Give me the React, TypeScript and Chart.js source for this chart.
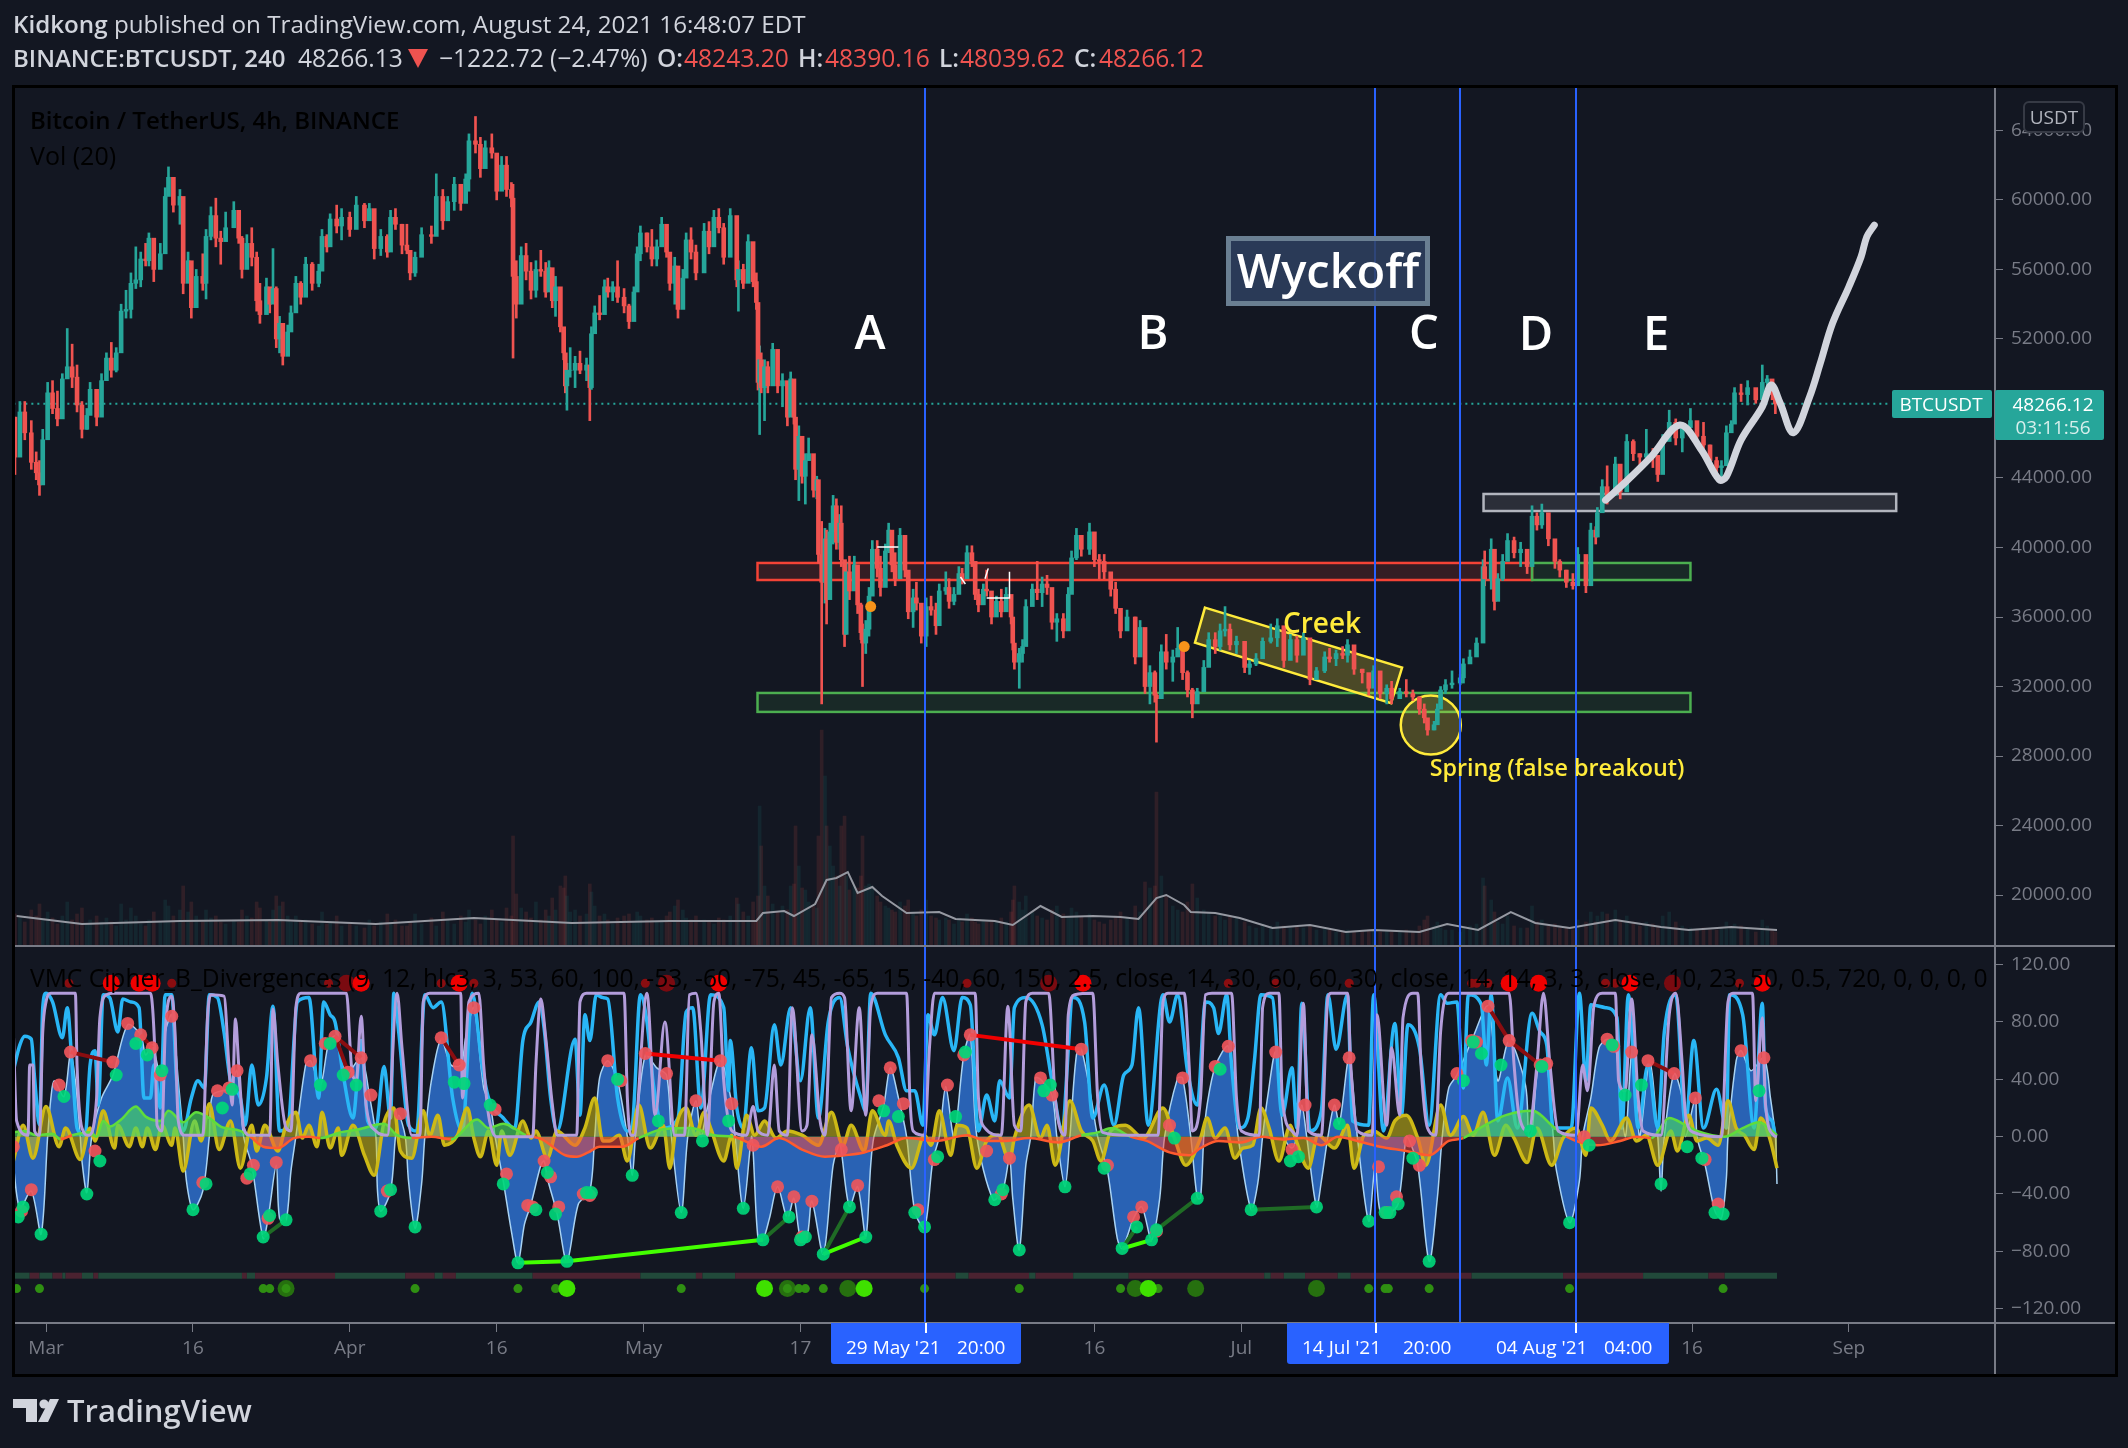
import React, { useEffect, useRef } from "react";
import { Chart, registerables } from "chart.js";
Chart.register(...registerables);

const BG = "#131722";
const AXIS = "#787b86";
const FONT = '"Open Sans", sans-serif';
const UP = "#26a69a";
const DOWN = "#ef5350";

// bar index: 4h bars counted from 26 Feb 2021 00:00. Prices in thousand USDT.
// rows of: bar, high, low, close
const candleTable = [
-1,47.5,44.2,45.2, 2,48.4,45.8,47.8, 5,48.4,46.2,46.6, 9,47.3,44.5,44.9, 12,45.5,43.9,44.3, 14,45,43,43.6, 16,46.8,44.8,46.2, 19,49.5,47.3,48.9, 22,49.6,47.7,48, 25,49,47,47.4,
28,50,48,49.7, 31,52.6,49.9,50.4, 34,51.7,49.2,49.8, 37,50.5,47.8,48.2, 40,48.4,46.3,46.8, 43,48,46.8,47.6, 45,49.5,48,49.1, 49,49,47,47.5, 52,50,48.4,49.6, 55,51.2,49.6,50.9,
58,51.8,49.8,50.2, 61,51.5,50.1,51.2, 64,54,51.5,53.6, 67,54.8,53.2,53.7, 70,55.8,53.2,55.2, 73,57.3,54.9,55.4, 76,57,55,56.6, 79,57.5,56.2,56.5, 81,58.1,56.2,57.8, 84,57.7,55.3,56,
88,57.5,56.1,56.9, 91,60.7,59.2,60.2, 93,61.9,60.3,61.3, 96,60.8,59.3,59.7, 100,60.6,58.6,60.2, 102,58.5,54.6,55.2, 105,57,55.4,56.5, 107,55.5,53.2,53.8, 110,56,54.7,55.6, 114,56.9,54.8,55.2,
116,58.3,54.3,57.9, 119,59.6,57.7,59.1, 122,60.1,57.3,57.8, 125,58.2,56.3,57.6, 128,59.3,58,58.4, 133,59.9,58.4,59.4, 136,58.6,57.5,57.8, 138,57.9,55.5,56, 141,58,56.4,57.5, 144,58.4,56.2,56.7,
147,57,53.6,54.2, 149,55.2,52.9,53.4, 153,55.5,54,55, 155,54.9,53.5,54, 157,57.2,54.6,54.9, 159,55,51.5,52, 161,53.3,51.2,52.9, 163,52,50.5,51, 166,52.8,51.2,52.4, 168,53.9,52.5,53.5,
171,55.6,53.8,55.2, 174,55.3,54,54.4, 177,56.7,55.6,56.3, 181,56.4,54.8,55.2, 185,56.3,55,55.9, 187,58.3,56.3,57.9, 190,58,57,57.3, 192,59.2,58,58.9, 196,59.7,58.1,58.5, 199,59.5,57.7,59,
204,59.3,57.9,58.3, 208,60.2,59,59.7, 213,59.8,58.4,58.8, 216,59.8,58.9,59.5, 219,59.4,56.6,57.2, 223,58.3,56.8,57.9, 227,58,56.7,57, 229,59.4,57.9,59, 232,59.5,58.3,58.6, 236,58.6,56.9,57.4,
239,58.6,56.9,57.1, 241,56.9,55.4,55.8, 244,57,55.6,56.7, 248,58.4,57,58, 254,58.5,57.5,57.9, 257,61.5,58.5,60.2, 261,60.6,58.3,58.8, 264,60.2,59.3,59.9, 268,61.3,59.4,60.9, 272,60.6,59.4,59.8,
275,61.5,60,61.2, 277,63.8,60.5,63.4, 281,64.8,62.7,63.2, 284,63.6,61.3,61.8, 287,63.4,62,63, 291,63.8,62.4,62.7, 294,62,60,60.5, 297,62.5,61.2,62, 300,62.5,60.2,60.6, 303,61,59.6,60.1,
304,60.9,50.9,55.6, 306,56.5,53.2,54, 309,57.3,54.8,56.8, 312,57.5,55.4,55.9, 315,56.4,54.3,54.8, 318,56.5,54.4,56, 321,57.1,55.6,55.9, 324,56.4,54.4,54.7, 326,56.5,55.2,56.1, 328,55.6,53.8,54.2,
330,55.6,53.3,55, 333,53.2,52.4,52.7, 335,52.4,50.8,51.2, 336,50.9,48.9,49.3, 337,50.6,47.9,50.2, 339,51.5,49.8,50.2, 342,51,49.2,50.6, 345,51.3,50,50.2, 349,50.9,49.6,50.5, 351,49.9,47.3,49.2,
352,52.7,49.1,52.3, 354,53.9,52.5,53.5, 357,54.5,53.1,53.4, 360,55.4,54.4,55, 362,55.5,54.4,54.7, 365,55.3,54.2,55, 368,56.5,54.1,54.4, 372,54.9,53.5,53.9, 375,54,52.6,53, 378,55,53.9,54.7,
380,57.3,56,56.9, 382,58.5,56.5,58.1, 386,58.1,57,57.3, 389,58.3,56.2,56.6, 392,57.7,56.2,57.3, 395,59,57.7,58.6, 398,58.1,56.7,57, 400,56.9,54.8,55.2, 403,56.7,54,56.2, 405,55.5,53.2,53.7,
408,56,54,55.5, 410,58.1,56.4,57.7, 413,58.4,56.6,57, 416,57.4,55.4,55.8, 421,58.65,56.4,58.2, 424,58.75,56.9,57.3, 427,59.4,57.5,59, 430,59.5,58.1,58.4, 433,58.65,56.3,56.7, 437,59.5,57.3,59.1,
441,58.65,55,55.4, 442,56.5,53.6,56, 445,56.3,54.9,55.2, 448,58,56.3,57.6, 451,57.2,55,55.3, 453,55.8,53.7,54.1, 454,53.7,49.06,49.5, 455,51.6,46.5,50.8, 456,51.2,48.9,49.2, 458,50.8,47.3,50.4,
460,50.7,48.9,49.3, 463,51.75,50.4,51.4, 466,51,48.9,49.3, 469,50,48.1,49.6, 472,49.4,47,47.5, 474,50.1,47.9,49.7, 476,48.7,47.1,47.5, 477,47.1,43.9,44.5, 479,47,42.7,46.4, 481,46.3,43.7,44.1,
483,45.4,42.5,45, 485,46.3,45,45.4, 488,44.4,42.9,43.3, 490,44.1,42.8,43.9, 491,42.8,39.1,39.6, 493,41.5,31,38, 495,41.1,36.8,40.5, 496,41,35.6,37, 498,41.4,38.9,40.9, 500,43,40.2,42.4,
502,42.8,39.9,40.3, 504,41.9,39.9,41.4, 505,42.4,38.9,39.3, 507,38.5,34.3,35, 508,39.1,36,38.6, 510,39.5,37,37.5, 513,39.5,37.7,39, 515,38.1,36.2,36.7, 517,36.8,34.7,35.1, 518,35.6,32,34.5,
520,35.8,33.9,35.3, 522,37.7,34.9,37.2, 524,40.4,37.5,39.9, 527,40.4,38.3,38.8, 529,39.5,37.2,37.7, 532,40.2,38.5,39.8, 534,41.4,39.7,41, 536,40,38.6,39, 538,39.7,37.8,38.2, 541,41.1,39.3,40.7,
544,39.6,38.3,38.7, 546,38,35.9,36.3, 549,37.6,35.4,37.1, 551,38,36.4,36.8, 554,36.2,34.5,34.9, 557,37.1,34.3,36.6, 560,37.2,36.1,36.4, 563,36.8,35,35.5, 565,37.9,36.8,37.5, 569,38.6,37.3,37.7,
571,38.2,36.5,36.9, 574,37.7,36.7,37.3, 577,38.9,37.8,38.5, 579,38.8,37.9,38.2, 582,40.1,38.5,39.7, 585,40.1,38.9,39.2, 587,38.7,37,37.3, 589,37.6,36.3,36.7, 592,37.9,37.1,37.6, 594,38.7,37.2,37.5,
597,37.1,35.6,36, 600,37.2,36.2,36.9, 603,37.6,36,36.3, 606,37.7,36.6,37.3, 609,36.8,35.6,36, 610,35.6,34.1,34.5, 611,34.2,33,33.4, 614,34.2,31.9,33.9, 616,34.7,33.4,34.3, 618,37,34.7,36.6,
622,37.9,36.7,37.6, 625,39.2,37,37.4, 628,38.3,36.6,37.9, 631,38.4,37.3,37.7, 634,37.5,35.3,35.7, 637,36.2,34.6,35.9, 641,36.2,34.8,35.2, 644,37.7,36,37.3, 646,39.8,37.6,39.4, 649,41.1,39.3,40.7,
652,40.6,39.5,39.9, 657,41.4,39.6,40.9, 660,40.5,38.9,39.3, 663,39.6,38.2,39.2, 666,39.6,38.2,38.6, 670,38.2,37.2,37.6, 673,38,36.2,36.5, 676,36.3,34.8,35.2, 680,36.4,35.3,36, 685,36,33.3,33.7,
688,35.8,34.3,35.4, 691,33.3,31.6,32, 694,33.2,31,32.8, 697,32.9,31.1,31.5, 698,31.6,28.8,31.3, 701,34.4,31.6,34, 704,35,33,33.4, 708,34.1,32.3,33.7, 711,35.4,33.9,34.2, 714,34.5,32.4,32.8,
717,32.9,31.4,31.8, 720,31.9,30.2,31, 723,31.9,31.4,31.7, 727,33.5,32.3,33.1, 730,35.1,33.5,34.7, 734,35.1,33.9,34.3, 737,35.6,34.1,35.2, 740,36.6,34.9,35.3, 743,35.6,34.1,34.4, 747,34.9,33.9,34.6,
752,34.1,32.8,33.1, 755,33.5,32.7,33.3, 759,33.9,33.2,33.6, 763,34.8,34.3,34.6, 768,35.6,34.5,34.8, 772,35.9,34.3,35.5, 776,34.3,33.1,33.5, 780,35,33.7,34.7, 784,34.9,33.4,33.8, 788,35.1,33.9,34.8,
792,33.1,32.1,32.4, 796,33.1,32.6,32.9, 801,34,32.8,33.7, 804,34.2,33.4,33.6, 808,34.1,33.2,33.9, 812,34.3,33.6,33.8, 815,34.7,33.4,34.4, 819,33.4,32.7,33, 824,33,32.2,32.8, 828,32.6,31.5,31.9,
831,33.2,32,32.9, 835,32.2,31.3,31.6, 839,32.1,31,31.9, 842,32.3,31,31.3, 847,31.9,31.4,31.7, 851,32.4,31.4,31.6, 855,31.8,31.2,31.4, 859,31.4,30.4,30.7, 862,31,29.9,30.2, 864,30.1,29.2,29.5,
868,30,29.5,29.8, 870,31,29.9,30.7, 872,32,31.4,31.8, 875,32.4,31.6,32.1, 879,32.9,31.9,32.2, 884,32.7,32.1,32.5, 886,33.6,32.2,33.3, 890,34.1,33.4,33.7, 894,34.8,33.9,34.5, 898,39.3,35.3,38.9,
899,39.8,37.8,38.2, 903,40.5,37.6,39.9, 905,37.9,36.4,36.9, 907,38.5,37.2,38.2, 910,39.6,38.1,39.2, 913,40.8,39.3,40.4, 917,40.6,39.4,39.7, 921,40.3,38.9,39.9, 925,39.8,38.5,38.9, 928,42.4,38.9,41.8,
931,42,41,41.3, 934,42.5,41.1,42, 938,41.6,40.1,40.5, 942,40.4,38.8,39.2, 945,39.3,38.3,38.7, 949,38.7,37.7,38, 953,38.5,37.6,37.8, 956,40,38.5,39.6, 961,39.3,37.4,37.8, 964,41.4,39.3,41,
967,41.2,40.2,40.6, 968,42.3,41.4,42, 971,43.9,42.5,43.5, 974,44.7,42.5,43, 979,45.2,43.5,44.8, 982,43.9,42.8,43.2, 986,46.5,44.9,46.1, 990,46.2,45,45.4, 994,45.4,44.7,45.2, 998,46.8,45,45.4,
1002,45.7,44.6,45.3, 1005,44.8,43.8,44.2, 1008,46.5,45.2,46.1, 1012,47.9,46.4,47.2, 1016,47.4,45.9,46.3, 1020,47.2,45.5,46.9, 1025,48,46.9,47.3, 1029,47.2,46,46.4, 1033,47.2,45.5,45.9, 1037,45.9,44.6,45,
1041,45.2,44.3,44.6, 1044,45,43.9,44.7, 1047,47,45.2,46.6, 1050,47.3,46.7,47.1, 1052,49.2,48.3,48.9, 1056,49.4,48.4,48.8, 1060,49.6,48.2,49.2, 1065,49,48.3,48.5, 1069,50.5,49.2,49.5, 1072,49.9,49.1,49.7, 1075,49.5,48.5,48.8, 1077,48.5,47.7,48.27,
];

const volumes = [
32,28,24,36,30,42,26,34,28,22, 30,44,26,32,38,22,26,30,24,28, 24,20,42,26,38,30,22,20,26,34, 24,46,40,30,36,60,34,44,30,24,
36,28,30,24,22,26,24,36,30,28, 44,38,26,24,36,50,40,44,30,24, 30,24,26,22,20,34,22,24,30,20, 22,20,18,26,20,24,32,22,26,20,
20,24,32,22,28,20,34,26,22,30, 24,36,26,22,30,36,26,24,38,30, 110,52,38,34,28,44,26,36,30,48, 36,60,58,70,50,34,36,30,32,62,
54,40,30,32,26,22,28,30,32,24, 34,30,26,28,24,26,30,34,40,46, 36,28,26,30,26,24,22,28,26,30, 48,42,34,30,44,26,50,140,100,60,
50,42,34,40,36,60,62,120,80,58, 56,44,40,38,110,216,170,120,100,80, 70,60,120,130,70,56,60,58,70,110, 60,62,60,50,44,40,38,36,34,44,
40,46,34,30,36,46,30,28,26,28, 26,22,28,24,32,28,24,22,26,24, 26,24,28,24,34,46,60,44,36,50, 34,30,28,26,36,40,32,28,38,34,
30,32,26,24,22,26,30,34,28,40, 34,64,58,60,154,70,50,40,36,34, 44,62,48,36,34,30,32,26,30,28, 24,20,18,22,20,24,20,18,20,18,
20,16,18,16,14,14,16,14,14,16, 16,14,16,14,14,16,14,20,26,30, 20,24,18,16,16,14,18,20,22,68, 60,46,34,24,22,30,20,18,18,40,
24,26,20,22,18,18,16,26,24,34, 24,30,34,32,36,26,30,24,20,24, 22,20,30,34,24,20,18,16,18,16, 16,18,24,18,22,20,18,14,26,20,16,14,
];

const volumeMa = [0,30,40,22,100,25,160,26,220,22,280,28,340,23,400,25,418,25,453,25,457,33,470,35,476,30,489,42,496,66,502,68,509,74,515,53,524,59,530,50,545,33,565,34,575,27,599,25,610,21,627,40,640,29,659,30,676,29,687,27,698,48,704,51,715,41,719,34,734,33,749,28,769,18,792,21,814,14,831,16,859,14,876,22,895,16,915,34,930,23,951,18,979,26,1007,19,1024,16,1050,19,1078,16];

const projection = [973,42.73,985.5,43.79,1001,45.23,1018.5,47.05,1031.7,45.61,1042.7,43.89,1047,44.08,1056,46.19,1069,48.1,1074.5,49.35,1080,48.3,1088,46.6,1098,48.68,1104.5,50.6,1112,52.9,1122,55,1129.5,56.73,1133,57.88,1137.6,58.55];
const lastPrice = [-2,48.266,1148,48.266];
const orangeMarks = [523,36.6,715,34.3];
const whiteMarks = [527,40.03,540,40.03,540,null,594,37.1,608,37.1,608,38.6,608,null,578,38.3,581,37.9,581,null,593,38.2,595,38.8];

// oscillator: bar, value
const moneyFlow = [-2,-20,2,-50,9,-38,15,-68,19,0,21,27,23,39,29,28,33,58,36,39,39,0,40,-17,43,-39,46,0,52,27,59,43,68,78,76,71,79,57,83,64,88,43,91,73,95,85,99,39,102,0,104,-31,108,-51,114,-38,118,0,120,29,130,34,135,46,139,0,144,-20,151,-71,154,-57,159,-20,161,-57,165,-59,168,-24,171,0,177,50,180,53,186,36,191,65,195,70,202,44,211,55,216,29,220,0,221,-38,223,-52,229,-38,232,0,234,15,238,0,240,-31,244,-64,248,-33,250,0,254,39,260,68,266,50,272,50,275,69,280,90,286,34,290,22,293,0,298,-31,303,-66,307,-88,311,-61,315,-47,321,-20,323,-17,325,-29,331,-54,337,-87,344,-47,351,-38,354,0,357,41,362,53,368,39,374,0,377,-27,379,0,385,57,392,48,398,43,401,0,407,-53,411,0,416,25,419,0,423,20,431,53,438,23,440,0,445,-50,450,0,451,-10,454,-71,457,-72,461,-57,466,-35,472,-57,476,-43,480,-71,484,-70,487,-45,494,-82,500,-20,504,-5,505,-10,510,-49,515,-35,520,-70,523,-20,525,0,531,22,535,48,540,27,545,0,550,-52,556,-64,561,-17,565,0,569,35,574,0,580,57,584,71,588,0,598,-44,604,-37,608,-15,610,-43,614,-79,618,-20,621,0,624,41,627,40,634,29,637,0,642,-35,645,0,649,57,652,61,658,27,662,0,668,-24,674,-71,677,-78,684,-57,689,-49,695,-72,700,-43,703,0,711,41,714,41,719,0,723,-43,725,-43,727,0,729,22,734,49,742,63,748,0,756,-51,760,-33,763,0,766,27,771,59,776,0,781,-8,784,0,787,22,790,0,796,-49,799,-31,803,0,807,22,810,9,816,55,821,0,828,-59,832,-20,835,-52,841,-53,846,-47,851,0,853,-3,858,-20,865,-87,870,-43,873,0,877,34,882,43,891,67,901,91,907,39,914,67,924,36,926,0,928,4,932,50,937,50,941,0,943,-24,951,-60,957,-31,959,0,964,27,969,62,974,68,979,64,985,0,989,58,992,27,994,0,1000,52,1005,0,1007,-38,1009,0,1015,44,1020,27,1022,0,1028,27,1029,0,1034,-20,1040,-52,1044,-57,1047,-29,1048,0,1053,53,1056,60,1062,46,1070,55,1074,27,1077,0,1078,-33];

const fastStoch = [-2,46,2,64,5,70,9,68,11,41,14,8,16,90,18,100,22,94,28,69,31,90,34,50,37,6,42,1,45,50,48,60,50,22,53,99,57,97,62,73,65,96,70,94,75,90,78,27,82,27,84,50,88,20,91,99,95,99,98,39,102,4,107,27,111,39,115,34,118,99,123,97,127,73,131,39,137,27,140,8,144,50,148,22,153,41,157,91,161,4,166,6,172,94,179,97,185,27,188,94,192,85,195,80,200,43,206,13,211,67,215,11,220,6,225,49,229,13,231,100,234,73,240,8,245,4,250,99,255,90,260,94,267,27,273,4,279,100,285,50,289,27,298,13,305,6,310,67,315,80,320,94,323,76,327,27,331,4,342,68,345,15,348,85,351,67,355,99,359,97,362,96,368,27,374,4,377,8,382,99,386,80,390,36,396,6,405,13,410,87,414,90,419,20,425,99,433,90,436,32,437,67,441,20,445,6,450,62,454,18,458,20,464,78,468,50,474,90,480,39,486,90,491,13,497,80,504,97,509,62,517,27,520,18,523,100,532,71,540,55,545,32,550,32,555,8,558,85,562,71,567,97,574,60,579,97,584,92,589,4,594,29,599,11,602,39,608,27,611,90,618,97,628,78,634,39,640,6,647,97,654,80,659,13,666,36,672,8,678,43,683,50,687,90,693,8,702,99,706,80,711,99,717,46,723,22,728,94,733,90,736,72,741,99,744,50,749,6,754,13,758,53,762,99,769,97,775,15,781,48,784,6,787,93,792,4,799,18,803,99,808,61,815,99,818,11,828,8,831,99,837,4,844,79,848,15,852,78,859,62,865,8,872,99,876,93,882,94,886,34,889,99,897,92,900,50,903,99,907,11,913,41,919,6,928,86,933,73,937,64,941,6,952,6,957,100,961,39,964,92,973,90,980,83,983,6,987,99,993,6,999,50,1005,6,1009,73,1016,99,1022,8,1027,67,1033,6,1041,33,1047,6,1049,99,1057,85,1064,6,1069,93,1071,20,1075,11,1077,0];

const slowStoch = [-2,73,0,11,7,1,8,50,10,50,11,4,14,1,16,73,18,94,21,100,36,100,37,50,40,6,44,1,49,27,51,83,55,99,59,100,82,100,85,50,86,8,89,4,91,73,95,98,97,73,99,11,103,1,114,1,117,85,119,99,127,98,130,50,132,22,134,82,136,50,139,6,143,1,155,1,157,89,160,50,165,6,168,4,171,90,174,100,202,100,205,50,208,39,211,84,214,22,220,4,227,1,233,100,236,62,242,1,247,1,249,94,253,100,272,100,273,27,277,94,283,100,286,50,289,15,294,0,316,0,318,50,321,96,324,69,328,23,331,1,343,1,345,94,349,100,372,100,374,27,376,1,378,1,386,100,391,15,397,80,403,1,409,1,412,99,416,100,419,73,423,1,427,94,430,100,433,39,438,4,447,1,451,21,454,4,460,1,464,50,467,4,472,1,475,90,481,4,484,8,487,71,492,11,495,1,499,97,504,100,507,97,511,18,516,90,520,15,523,90,527,100,545,100,547,27,549,4,556,1,559,62,562,100,587,100,589,27,593,6,603,1,607,91,611,8,615,4,618,94,622,100,632,100,636,27,642,1,644,85,648,99,659,100,662,27,665,3,680,1,699,1,702,94,705,100,715,100,718,50,720,4,725,27,728,99,732,100,744,100,747,27,750,4,761,1,763,90,767,100,773,100,775,27,781,4,784,1,788,93,791,4,799,1,803,97,805,100,815,100,817,50,821,4,830,1,833,85,839,8,842,62,847,15,849,83,855,100,858,100,860,50,864,6,869,1,872,73,877,100,914,100,917,50,920,15,926,4,931,50,935,100,939,50,944,4,955,1,959,50,962,32,966,92,971,100,979,100,981,39,985,32,989,96,993,27,996,4,1007,1,1012,85,1016,100,1020,50,1022,15,1027,3,1044,0,1048,94,1051,100,1063,100,1065,25,1069,83,1071,22,1076,1,1078,0];

const rsiMfi = [-2,-17,4,8,10,-15,18,21,26,-7,30,6,39,-16,45,6,48,-3,53,18,60,-8,62,8,69,-7,73,6,77,-7,80,6,85,-9,89,8,95,-6,97,6,102,-24,109,11,113,-3,118,23,124,-9,131,11,137,-22,144,8,147,-10,152,8,160,-10,165,8,171,17,175,-1,179,8,184,-7,187,17,192,-8,197,6,199,-13,206,8,213,-13,219,-27,225,10,231,20,235,-10,242,-15,249,18,253,1,258,15,262,-6,270,1,276,20,280,-1,284,-14,289,4,294,-20,297,4,302,-13,310,11,315,-1,318,4,325,-15,331,4,342,-6,348,6,354,27,359,-3,363,-3,369,1,374,-17,381,22,388,-8,396,8,400,-22,404,8,410,20,416,1,421,17,425,6,433,-17,438,1,441,-22,447,15,452,1,458,11,465,-1,472,4,481,1,491,-6,499,17,506,-6,511,8,519,-10,524,18,532,1,534,11,539,-6,548,-22,556,1,560,-6,565,18,572,-13,576,8,582,6,588,-22,594,-3,601,1,608,-17,611,-1,620,22,627,-1,631,8,636,-20,645,25,652,4,659,-3,664,-17,670,4,679,8,690,-1,702,20,709,-1,716,-20,725,-1,729,13,734,-1,740,6,746,-15,751,-8,757,-6,762,20,767,6,773,-17,780,8,783,-1,791,-22,797,1,807,-8,815,8,819,-22,825,1,831,4,839,-1,844,11,851,15,858,-1,863,-20,872,22,878,1,886,14,892,1,898,17,905,-13,912,8,917,-1,925,-18,931,6,940,-20,947,-1,955,6,961,-13,964,20,971,8,976,-3,986,13,992,-3,998,1,1005,-20,1013,4,1017,-10,1024,15,1029,-3,1035,-1,1042,-6,1048,25,1053,6,1058,1,1064,-9,1068,13,1074,-3,1078,-22];

const mfiArea = [-2,3,5,4,12,1,22,2,27,-2,34,1,45,3,49,0,53,11,57,7,64,12,73,21,79,14,88,11,93,18,102,10,110,17,118,13,125,7,137,4,143,0,151,-7,160,-8,170,-1,179,0,186,-1,198,3,209,5,225,9,233,1,242,-1,254,0,266,-2,282,12,289,6,298,9,312,1,322,-2,336,-13,343,-14,350,-11,357,-7,371,-7,381,-1,395,5,413,6,427,1,439,0,456,-7,467,-1,481,-9,495,-14,507,-13,519,-11,533,-6,545,-1,563,-3,582,1,594,-3,606,-3,620,-1,638,-4,652,1,662,3,671,6,682,0,692,-3,706,-11,718,-13,725,-8,736,-3,750,-4,762,0,775,-2,788,-1,799,-6,809,0,821,-3,835,-7,851,-10,865,-13,877,-3,886,-1,896,6,912,15,928,18,942,6,949,0,968,-6,982,-3,992,0,1001,-1,1012,13,1022,8,1029,4,1046,0,1057,6,1067,10,1078,1];

const redDots = [-2,-7,9,-37,3,-52,26,36,33,59,48,-10,59,52,68,79,76,71,83,62,88,43,95,84,114,-32,123,32,130,34,135,46,141,-29,145,-20,154,-57,159,-18,180,53,189,65,195,70,203,45,211,55,217,29,227,-38,235,16,260,69,271,50,280,90,293,19,300,-26,313,-48,316,-49,323,-17,327,-28,332,-49,347,-40,351,-41,362,53,370,39,385,58,398,44,416,25,431,53,438,23,451,-6,466,-35,476,-42,481,-70,487,-45,505,-9,515,-34,528,25,535,48,543,23,552,-51,562,-16,570,36,580,57,584,71,594,-10,603,-40,608,-15,627,41,634,29,652,61,668,-20,684,-56,689,-49,698,-66,706,8,714,41,734,49,742,63,771,59,781,-9,789,22,807,22,816,55,834,-21,839,-53,845,-42,853,-3,859,-20,882,44,891,67,894,66,901,91,914,67,933,50,937,51,960,0,974,68,978,63,989,59,999,53,1015,44,1028,27,1034,-16,1042,-47,1056,60,1070,55];

const greenDots = [1,-56,4,-49,15,-68,29,28,43,-40,51,-17,61,43,73,65,80,57,89,46,108,-51,116,-33,126,20,132,33,143,-26,151,-70,155,-55,165,-58,186,36,192,65,200,43,208,36,223,-52,229,-37,244,-63,268,38,274,37,290,22,298,-33,307,-88,318,-51,325,-25,330,-54,337,-87,349,-39,352,-39,368,40,377,-27,393,11,407,-53,420,-3,436,11,445,-50,457,-72,473,-56,480,-72,483,-70,494,-82,510,-49,520,-70,531,18,540,14,550,-53,556,-63,564,-14,575,14,581,59,599,-44,604,-37,614,-79,629,32,633,36,642,-35,666,-22,677,-78,686,-63,695,-72,698,-65,709,-1,723,-43,737,47,756,-51,780,-17,785,-14,796,-49,810,9,828,-59,838,-53,841,-53,846,-47,855,-15,865,-87,886,39,892,66,897,58,909,50,927,4,934,49,951,-60,963,-6,977,64,985,29,995,36,1007,-33,1023,-7,1032,-15,1040,-53,1045,-54,1067,32];

const divBrightGreen = [307,-88,337,-87,457,-72,457,null,494,-82,520,-70,520,null,677,-78,695,-72];
const divDarkGreen = [151,-70,165,-58,165,null,457,-72,473,-56,473,null,494,-82,510,-49,510,null,677,-78,686,-63,686,null,698,-65,723,-43,723,null,756,-51,796,-49];
const divBrightRed = [385,58,431,53,431,null,584,71,652,61];
const divDarkRed = [33,59,59,52,59,null,76,71,83,62,83,null,195,70,211,55,211,null,195,70,203,45,203,null,260,69,271,50,271,null,901,91,914,67,933,50,933,null,999,53,1015,44];

const bandBars = [-2,8,14,22,28,30,40,47,50,138,141,146,195,238,256,261,269,316,382,416,420,440,575,583,620,624,647,681,764,768,776,789,809,817,891,947,996,1036,1046,1078];
const bandKinds = "grgrgrgrgrgrgrgrgrgrgrgrgrgrgrgrgrgrgrg";
const bandLevel = -97;

const markerLevel = -106;
const smallMarkers = [0,14,151,155,165,244,307,330,407,472,479,483,494,556,614,676,699,828,838,840,865,951,1045];
const darkMarkers = [165,472,509,685,722,796];
const brightMarkers = [337,458,519,693];

const topLevel = 107;
const smallTop = [32,95,191,260,280,385,582,742,771,816,891,894,901,973,979,1055];
const darkTop = [202,398,632,1014];
const brightTop = [58,75,83,211,271,430,653,914,932,988,1069];

const priceTicks = [64,60,56,52,48,44,40,36,32,28,24,20];
const oscTicks = [120,80,40,0,-40,-80,-120];
const timeTicks = [18,108,204,294,384,480,660,750,1026,1122];
const timeLabels = ["Mar","16","Apr","16","May","17","16","Jul","16","Sep"];
const crosshairs = [556,832,884,955];

const redZone = [453.7,928,39.11,38.13];
const upperGreenZone = [928,1025,39.11,38.13];
const lowerGreenZone = [453.7,1025,31.63,30.54];
const greyZone = [898.3,1151,43.08,42.1];
const creekCorners = [727.7,36.54,848.4,33.09,841.7,31.04,721.6,34.52];
const springEllipse = [866,29.79,18.4,1.7];

const pairs = (flat: (number | null)[]) => {
  const out: any[] = [];
  for (let i = 0; i + 1 < flat.length; i += 2) out.push({ x: flat[i], y: flat[i + 1] });
  return out;
};

const candles: any[] = [];
for (let i = 0; i + 3 < candleTable.length; i += 4) {
  const close = candleTable[i + 3];
  const open = i === 0 ? candleTable[i + 1] : candleTable[i - 1];
  candles.push({ bar: candleTable[i], high: candleTable[i + 1], low: candleTable[i + 2], open, close });
}
const candleColor = candles.map((c) => (c.close >= c.open ? UP : DOWN));
const volumeColor = candles.map((c) => (c.close >= c.open ? "rgba(38,166,154,0.11)" : "rgba(239,83,80,0.13)"));

const oscLine = (flat: (number | null)[], order: number, extra: any) => ({
  type: "line", data: pairs(flat), xAxisID: "x", yAxisID: "yOsc", order, pointRadius: 0, borderWidth: 2, cubicInterpolationMode: "monotone", ...extra,
});
const segLine = (flat: (number | null)[], color: string, order: number) => ({
  type: "line", data: pairs(flat), xAxisID: "x", yAxisID: "yOsc", order, pointRadius: 0, borderWidth: 4, borderColor: color, spanGaps: false,
});
const dots = (xs: number[], level: number, radius: number, color: string, order: number) => ({
  type: "scatter", data: xs.map((x) => ({ x, y: level })), xAxisID: "x", yAxisID: "yOsc", order, pointRadius: radius, pointBorderWidth: 0, pointBackgroundColor: color, showLine: false,
});
const scatterFlat = (flat: number[], radius: number, color: string, order: number) => ({
  type: "scatter", data: pairs(flat), xAxisID: "x", yAxisID: "yOsc", order, pointRadius: radius, pointBorderWidth: 0, pointBackgroundColor: color, showLine: false,
});

const overlayPlugin = {
  id: "overlay",
  beforeDatasetsDraw(chart: any) {
    const { ctx, scales } = chart;
    const X = scales.x, P = scales.yPrice;
    const zone = (z: number[], stroke: string, fill: string) => {
      const x0 = X.getPixelForValue(z[0]), x1 = X.getPixelForValue(z[1]);
      const y0 = P.getPixelForValue(z[2]), y1 = P.getPixelForValue(z[3]);
      ctx.fillStyle = fill; ctx.fillRect(x0, y0, x1 - x0, y1 - y0);
      ctx.strokeStyle = stroke; ctx.lineWidth = 2.5; ctx.strokeRect(x0, y0, x1 - x0, y1 - y0);
    };
    ctx.save();
    zone(redZone, "#f44336", "rgba(244,67,54,0.15)");
    zone(upperGreenZone, "#4caf50", "rgba(76,175,80,0.12)");
    zone(lowerGreenZone, "#4caf50", "rgba(76,175,80,0.12)");
    zone(greyZone, "#b2b5be", "rgba(178,181,190,0.15)");
    ctx.beginPath();
    for (let i = 0; i < creekCorners.length; i += 2) {
      const px = X.getPixelForValue(creekCorners[i]), py = P.getPixelForValue(creekCorners[i + 1]);
      if (i === 0) ctx.moveTo(px, py); else ctx.lineTo(px, py);
    }
    ctx.closePath();
    ctx.fillStyle = "rgba(255,235,59,0.24)"; ctx.fill();
    ctx.strokeStyle = "#ffeb3b"; ctx.lineWidth = 2.5; ctx.stroke();
    const cx = X.getPixelForValue(springEllipse[0]), cy = P.getPixelForValue(springEllipse[1]);
    const rx = Math.abs(X.getPixelForValue(springEllipse[0] + springEllipse[2]) - cx);
    const ry = Math.abs(P.getPixelForValue(springEllipse[1] + springEllipse[3]) - cy);
    ctx.beginPath(); ctx.ellipse(cx, cy, rx, ry, 0, 0, Math.PI * 2);
    ctx.fillStyle = "rgba(255,235,59,0.24)"; ctx.fill();
    ctx.strokeStyle = "#ffeb3b"; ctx.lineWidth = 2.5; ctx.stroke();
    ctx.restore();
  },
  afterDatasetsDraw(chart: any) {
    const { ctx, scales, chartArea, width } = chart;
    const X = scales.x, P = scales.yPrice;
    ctx.save();
    ctx.strokeStyle = "#2962ff"; ctx.lineWidth = 2;
    crosshairs.forEach((b) => {
      const x = Math.round(X.getPixelForValue(b));
      ctx.beginPath(); ctx.moveTo(x, chartArea.top); ctx.lineTo(x, chartArea.bottom); ctx.stroke();
    });
    ctx.strokeStyle = AXIS; ctx.lineWidth = 2;
    [P.bottom, chartArea.bottom].forEach((y) => {
      ctx.beginPath(); ctx.moveTo(chartArea.left, y); ctx.lineTo(width - 13, y); ctx.stroke();
    });
    ctx.beginPath(); ctx.moveTo(chartArea.right, chartArea.top); ctx.lineTo(chartArea.right, chartArea.bottom + 52); ctx.stroke();
    ctx.restore();
  },
};

const buildDatasets = () => [
  { type: "line", label: "projection", data: pairs(projection), xAxisID: "x", yAxisID: "yPrice", order: 0, pointRadius: 0, borderWidth: 7, borderColor: "#d1d4dc", tension: 0.35, borderCapStyle: "round" },
  { type: "line", label: "white", data: pairs(whiteMarks), xAxisID: "x", yAxisID: "yPrice", order: 1, pointRadius: 0, borderWidth: 1.5, borderColor: "#ffffff", spanGaps: false },
  { type: "scatter", label: "orange", data: pairs(orangeMarks), xAxisID: "x", yAxisID: "yPrice", order: 1, pointRadius: 5.5, pointBorderWidth: 0, pointBackgroundColor: "#f7931a", showLine: false },
  { type: "line", label: "last", data: pairs(lastPrice), xAxisID: "x", yAxisID: "yPrice", order: 5, pointRadius: 0, borderWidth: 2, borderColor: UP, borderDash: [2, 4] },
  { type: "bar", label: "body", data: candles.map((c) => ({ x: c.bar, y: [c.open, c.close] })), xAxisID: "x", yAxisID: "yPrice", order: 3, grouped: false, barThickness: 4, backgroundColor: candleColor, borderWidth: 0 },
  { type: "bar", label: "wick", data: candles.map((c) => ({ x: c.bar, y: [c.low, c.high] })), xAxisID: "x", yAxisID: "yPrice", order: 4, grouped: false, barThickness: 2, backgroundColor: candleColor, borderWidth: 0 },
  { type: "line", label: "volMa", data: pairs(volumeMa), xAxisID: "x", yAxisID: "yVol", order: 6, pointRadius: 0, borderWidth: 2, borderColor: "#9598a1" },
  { type: "bar", label: "vol", data: candles.map((c, i) => ({ x: c.bar, y: volumes[i] ?? 15 })), xAxisID: "x", yAxisID: "yVol", order: 7, grouped: false, barThickness: 3, backgroundColor: volumeColor, borderWidth: 0 },

  dots(brightTop, topLevel, 8.5, "#f00000", 10),
  dots(darkTop, topLevel, 8.5, "#7a0a10", 11),
  dots(smallTop, topLevel, 4.5, "#8a0d10", 11),
  scatterFlat(greenDots, 6.5, "rgba(0,214,122,0.92)", 12),
  scatterFlat(redDots, 6.5, "rgba(239,86,91,0.92)", 13),
  segLine(divBrightGreen, "#43ff00", 14),
  segLine(divBrightRed, "#f00000", 14),
  segLine(divDarkGreen, "#1f6b25", 15),
  segLine(divDarkRed, "#8a0d10", 15),
  oscLine(slowStoch, 16, { borderColor: "#b39ddb", borderWidth: 3 }),
  oscLine(mfiArea, 17, {
    borderWidth: 2.5,
    fill: { target: { value: 0 }, above: "rgba(70,215,100,0.65)", below: "rgba(255,70,60,0.5)" },
    segment: { borderColor: (c: any) => (c.p0.parsed.y + c.p1.parsed.y >= 0 ? "#5fdc3c" : "#ff5a2e") },
  }),
  oscLine(rsiMfi, 18, { borderColor: "#cdb916", borderWidth: 3.5, fill: { target: { value: 0 }, above: "rgba(215,195,20,0.55)", below: "rgba(215,195,20,0.55)" } }),
  oscLine(fastStoch, 19, { borderColor: "#29b6f6", borderWidth: 3.5 }),
  { type: "line", label: "moneyFlow", data: pairs(moneyFlow), xAxisID: "x", yAxisID: "yOsc", order: 20, pointRadius: 0, tension: 0.3, borderColor: "#a9d3f3", borderWidth: 1.5, fill: { target: { value: 0 }, above: "#2962b4", below: "#2962b4" } },
  {
    type: "line", label: "band", data: bandBars.map((x) => ({ x, y: bandLevel })), xAxisID: "x", yAxisID: "yOsc", order: 21, pointRadius: 0, borderWidth: 6,
    borderColor: "#21493a", segment: { borderColor: (c: any) => (bandKinds[c.p0DataIndex] === "g" ? "#21493a" : "#4a2230") },
  },
  dots(brightMarkers, markerLevel, 8.5, "#3fe000", 22),
  dots(smallMarkers, markerLevel, 4.5, "#2f8f12", 23),
  dots(darkMarkers, markerLevel, 8.5, "#26700f", 24),
];

const T = ({ x, y, size, color, weight = 400, center = false, children, width }: any) => (
  <div style={{ position: "absolute", left: x, top: y, fontFamily: FONT, fontSize: size, color, fontWeight: weight, lineHeight: 1, whiteSpace: "pre", transform: center ? "translate(-50%,-50%)" : "translateY(-50%)", width, overflow: width ? "hidden" : undefined, paddingBottom: width ? 4 : undefined }}>
    {children}
  </div>
);

const Box = ({ left, top, width, height, style }: any) => <div style={{ position: "absolute", left, top, width, height, boxSizing: "border-box", ...style }} />;

export default function App() {
  const ref = useRef<HTMLCanvasElement | null>(null);
  useEffect(() => {
    const chart = new Chart(ref.current as any, {
      type: "bar",
      data: { datasets: buildDatasets() as any },
      plugins: [overlayPlugin as any],
      options: {
        animation: false, responsive: false, devicePixelRatio: 1, events: [],
        layout: { padding: { left: 14, top: 88, right: 13, bottom: 73 } },
        plugins: { legend: { display: false }, tooltip: { enabled: false } },
        scales: {
          x: {
            type: "linear", min: -1.6, max: 1211.5, offset: false, position: "bottom",
            grid: { drawOnChartArea: false, color: AXIS, tickLength: 9, offset: false },
            border: { display: false },
            afterBuildTicks: (s: any) => { s.ticks = timeTicks.map((value) => ({ value })); },
            afterFit: (s: any) => { s.height = 52; },
            ticks: { autoSkip: false, maxRotation: 0, color: AXIS, padding: 5, font: { family: FONT, size: 19 }, callback: (v: any) => timeLabels[timeTicks.indexOf(v)] ?? "" },
          },
          yPrice: {
            type: "linear", position: "right", stack: "panes", stackWeight: 858, min: 17.07, max: 66.44,
            grid: { drawOnChartArea: false, color: AXIS, tickLength: 8 }, border: { color: AXIS, width: 2 },
            afterBuildTicks: (s: any) => { s.ticks = priceTicks.map((value) => ({ value })); },
            afterFit: (s: any) => { s.width = 120; },
            ticks: { color: AXIS, padding: 8, align: "center", crossAlign: "near", font: { family: FONT, size: 19 }, callback: (v: any) => (v * 1000).toFixed(2) },
          },
          yOsc: {
            type: "linear", position: "right", stack: "panes", stackWeight: 377, min: -130, max: 133,
            grid: { drawOnChartArea: false, color: AXIS, tickLength: 8 }, border: { color: AXIS, width: 2 },
            afterBuildTicks: (s: any) => { s.ticks = oscTicks.map((value) => ({ value })); },
            afterFit: (s: any) => { s.width = 120; },
            ticks: { color: AXIS, padding: 8, crossAlign: "near", font: { family: FONT, size: 19 }, callback: (v: any) => Number(v).toFixed(2).replace("-", "\u2212") },
          },
          yVol: { type: "linear", display: false, min: -377, max: 858 },
        },
      } as any,
    });
    return () => chart.destroy();
  }, []);

  return (
    <div style={{ position: "relative", width: 2128, height: 1448, background: BG, overflow: "hidden" }}>
      <style>{"body{margin:0;background:" + BG + "}"}</style>
      <canvas ref={ref} width={2128} height={1448} style={{ position: "absolute", left: 0, top: 0, display: "block" }} />
      <Box left={12} top={85} width={2106} height={1292} style={{ border: "3px solid #000" }} />

      <T x={13} y={24} size={24.2} color="#d1d4dc"><b style={{ fontWeight: 600 }}>Kidkong</b> published on TradingView.com, August 24, 2021 16:48:07 EDT</T>
      <T x={13} y={58} size={24} color="#d1d4dc" weight={600}>BINANCE:BTCUSDT, 240</T>
      <T x={298} y={58} size={24.6} color="#d1d4dc">48266.13</T>
      <svg style={{ position: "absolute", left: 408, top: 49 }} width={20} height={20}><polygon points="0,0 20,0 10,19" fill={DOWN} /></svg>
      <T x={439} y={58} size={24.6} color="#d1d4dc">{"\u22121222.72"}</T>
      <T x={550} y={58} size={24.6} color="#d1d4dc">{"(\u22122.47%)"}</T>
      <T x={657} y={58} size={24.6} color="#d1d4dc" weight={600}>O:</T>
      <T x={684} y={58} size={24.6} color={DOWN}>48243.20</T>
      <T x={798} y={58} size={24.6} color="#d1d4dc" weight={600}>H:</T>
      <T x={825} y={58} size={24.6} color={DOWN}>48390.16</T>
      <T x={939} y={58} size={24.6} color="#d1d4dc" weight={600}>L:</T>
      <T x={960} y={58} size={24.6} color={DOWN}>48039.62</T>
      <T x={1074} y={58} size={24.6} color="#d1d4dc" weight={600}>C:</T>
      <T x={1099} y={58} size={24.6} color={DOWN}>48266.12</T>

      <T x={30} y={120} size={24} color="#000" weight={600}>Bitcoin / TetherUS, 4h, BINANCE</T>
      <T x={30} y={155} size={25} color="#000">Vol (20)</T>
      <T x={30} y={980} size={24.6} color="#000" width={1957}>VMC Cipher_B_Divergences (9, 12, hlc3, 3, 53, 60, 100, -53, -60, -75, 45, -65, 15, -40, 60, 150, 2.5, close, 14, 30, 60, 60, 30, close, 14, 14, 3, 3, close, 10, 23, 50, 0.5, 720, 0, 0, 0, 0, 0</T>

      <T x={870} y={331} size={47} color="#fff" weight={600} center>A</T>
      <T x={1153} y={331} size={47} color="#fff" weight={600} center>B</T>
      <T x={1424} y={331} size={47} color="#fff" weight={600} center>C</T>
      <T x={1536} y={332} size={47} color="#fff" weight={600} center>D</T>
      <T x={1656} y={332} size={47} color="#fff" weight={600} center>E</T>

      <Box left={1226} top={236} width={204} height={70} style={{ background: "rgba(47,65,96,0.85)", border: "5px solid #6a7f92" }} />
      <T x={1328} y={270} size={47} color="#fff" weight={600} center>Wyckoff</T>
      <T x={1322} y={622} size={28} color="#ffeb3b" weight={600} center>Creek</T>
      <T x={1557} y={768} size={23.3} color="#ffeb3b" weight={600} center>Spring (false breakout)</T>

      <Box left={1892} top={390} width={100} height={28} style={{ background: UP, borderRadius: 2 }} />
      <T x={1941} y={404} size={19} color="#fff" center>BTCUSDT</T>
      <Box left={1995} top={390} width={109} height={50} style={{ background: UP, borderRadius: 2 }} />
      <T x={2053} y={404} size={19} color="#fff" center>48266.12</T>
      <T x={2053} y={427} size={19} color="#d7efec" center>03:11:56</T>
      <Box left={2023} top={101} width={62} height={32} style={{ background: BG, border: "2px solid #363a45", borderRadius: 6 }} />
      <T x={2054} y={117} size={19} color="#b2b5be" center>USDT</T>

      <Box left={831} top={1323} width={190} height={41} style={{ background: "#2962ff", borderRadius: "0 0 3px 3px" }} />
      <Box left={1287} top={1323} width={382} height={41} style={{ background: "#2962ff", borderRadius: "0 0 3px 3px" }} />
      <Box left={925} top={1323} width={2} height={10} style={{ background: "#fff" }} />
      <Box left={1375} top={1323} width={2} height={10} style={{ background: "#fff" }} />
      <Box left={1575} top={1323} width={2} height={10} style={{ background: "#fff" }} />
      <T x={846} y={1347} size={19} color="#fff">29 May '21</T>
      <T x={957} y={1347} size={19} color="#fff">20:00</T>
      <T x={1302} y={1347} size={19} color="#fff">14 Jul '21</T>
      <T x={1403} y={1347} size={19} color="#fff">20:00</T>
      <T x={1496} y={1347} size={19} color="#fff">04 Aug '21</T>
      <T x={1604} y={1347} size={19} color="#fff">04:00</T>

      <svg style={{ position: "absolute", left: 13, top: 1399 }} width={46} height={24}>
        <polygon points="0,0 24,0 24,23 13,23 13,9 0,9" fill="#d1d4dc" />
        <circle cx={31} cy={5} r={4.6} fill="#d1d4dc" />
        <polygon points="37,0 46,0 35,23 25,23" fill="#d1d4dc" />
      </svg>
      <T x={67} y={1410} size={31} color="#d1d4dc" weight={600}>TradingView</T>
    </div>
  );
}
